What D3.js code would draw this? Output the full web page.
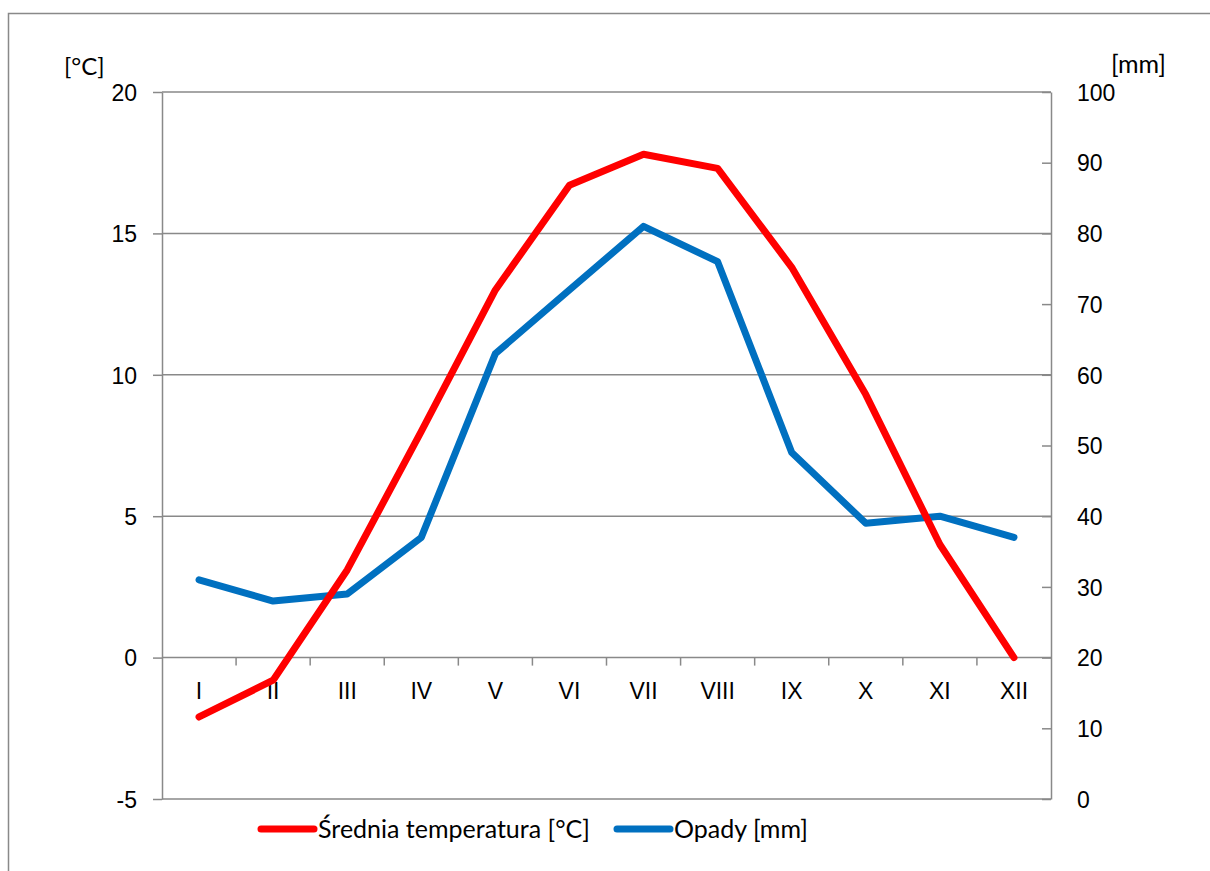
<!DOCTYPE html>
<html>
<head>
    <meta charset="utf-8">
    <script src="https://d3js.org/d3.v7.min.js"></script>
    <style>
        body { margin: 0; background: #fff; }
        svg { font-family: Lato, "Open Sans", sans-serif; }
        .axis text { font-size: 23px; fill: #000; }
        .axis path, .axis line { stroke: #898989; stroke-width: 1.5; }
    </style>
</head>
<body>
<script>
    // dane z wykresu
    var miesiace = ["I", "II", "III", "IV", "V", "VI", "VII", "VIII", "IX", "X", "XI", "XII"];
    var temperatura = [-2.1, -0.8, 3.1, 8.0, 13.0, 16.7, 17.8, 17.3, 13.8, 9.3, 4.0, 0.0];
    var opady = [31, 28, 29, 37, 63, 72, 81, 76, 49, 39, 40, 37];
    var tickiTemp = [-5, 0, 5, 10, 15, 20];
    var tickiOpady = [0, 10, 20, 30, 40, 50, 60, 70, 80, 90, 100];

    var W = 1210, H = 871;
    var m = {left: 162, right: 1051, top: 92, bottom: 799};

    var svg = d3.select("body").append("svg")
        .attr("width", W)
        .attr("height", H);

    // ramka wykresu
    svg.append("rect")
        .attr("x", 8.5).attr("y", 13.5)
        .attr("width", W + 20).attr("height", H + 20)
        .attr("fill", "none")
        .attr("stroke", "#898989")
        .attr("stroke-width", 1.5);

    var x = d3.scaleBand().domain(miesiace).range([m.left, m.right]);
    var yL = d3.scaleLinear().domain([-5, 20]).range([m.bottom, m.top]);
    var yR = d3.scaleLinear().domain([0, 100]).range([m.bottom, m.top]);

    // linie siatki
    svg.append("g").selectAll("line")
        .data(tickiTemp)
        .enter().append("line")
        .attr("x1", m.left).attr("x2", m.right)
        .attr("y1", function(d) { return yL(d); })
        .attr("y2", function(d) { return yL(d); })
        .attr("stroke", "#898989")
        .attr("stroke-width", 1.5);

    // oś lewa
    svg.append("g")
        .attr("class", "axis")
        .attr("transform", "translate(" + m.left + ",0)")
        .call(d3.axisLeft(yL).tickValues(tickiTemp).tickFormat(String)
            .tickSize(9).tickSizeOuter(0).tickPadding(16))
        .selectAll("text").attr("dy", "0.36em");

    // oś prawa
    svg.append("g")
        .attr("class", "axis")
        .attr("transform", "translate(" + m.right + ",0)")
        .call(d3.axisRight(yR).tickValues(tickiOpady).tickFormat(String)
            .tickSizeInner(-9).tickSizeOuter(0).tickPadding(26))
        .selectAll("text").attr("dy", "0.36em");

    // oś X (miesiące)
    var osX = svg.append("g")
        .attr("class", "axis")
        .attr("transform", "translate(0," + yL(0) + ")")
        .call(d3.axisBottom(x).tickSize(0).tickPadding(25));
    osX.select(".domain").remove();

    osX.selectAll(".podzialka")
        .data(miesiace.slice(1))
        .enter().append("line")
        .attr("x1", function(d) { return x(d); })
        .attr("x2", function(d) { return x(d); })
        .attr("y1", 0).attr("y2", 8);

    // jednostki
    svg.append("text").attr("x", 64).attr("y", 75)
        .style("font-size", "24px").text("[°C]");
    svg.append("text").attr("x", 1111).attr("y", 73)
        .style("font-size", "25px").text("[mm]");

    var cx = function(d, i) { return x(miesiace[i]) + x.bandwidth() / 2; };

    var liniaT = d3.line().x(cx).y(function(d) { return yL(d); });
    var liniaO = d3.line().x(cx).y(function(d) { return yR(d); });

    svg.append("path")
        .datum(opady)
        .attr("d", liniaO)
        .attr("fill", "none")
        .attr("stroke", "#0070C0")
        .attr("stroke-width", 7)
        .attr("stroke-linecap", "round")
        .attr("stroke-linejoin", "round");

    svg.append("path")
        .datum(temperatura)
        .attr("d", liniaT)
        .attr("fill", "none")
        .attr("stroke", "#FF0000")
        .attr("stroke-width", 7)
        .attr("stroke-linecap", "round")
        .attr("stroke-linejoin", "round");

    // legenda
    var legenda = [
        { nazwa: "Średnia temperatura [°C]", kolor: "#FF0000", x: 261 },
        { nazwa: "Opady [mm]", kolor: "#0070C0", x: 617 }
    ];
    var lg = svg.selectAll(".legend")
        .data(legenda)
        .enter().append("g")
        .attr("class", "legend")
        .attr("transform", function(d) { return "translate(" + d.x + ",829)"; });

    lg.append("line")
        .attr("x1", 0).attr("x2", 53)
        .attr("stroke", function(d) { return d.kolor; })
        .attr("stroke-width", 7)
        .attr("stroke-linecap", "round");

    lg.append("text")
        .attr("x", 57).attr("y", 0)
        .attr("dy", "0.36em")
        .style("font-size", "25px")
        .text(function(d) { return d.nazwa; });
</script>
</body>
</html>
